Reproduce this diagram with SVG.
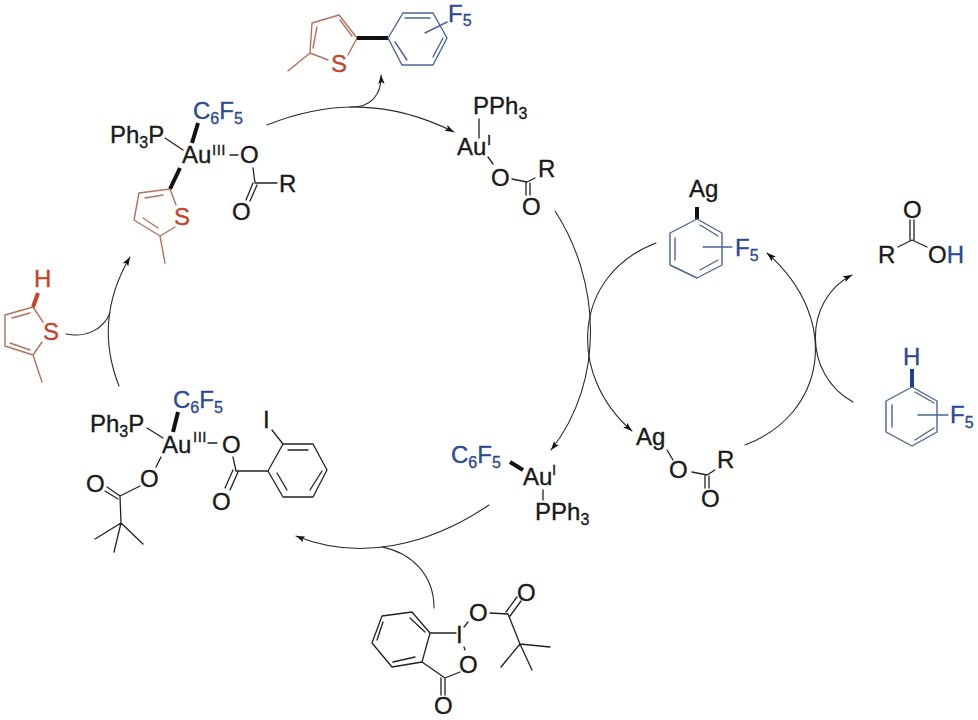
<svg xmlns="http://www.w3.org/2000/svg" width="978" height="720" viewBox="0 0 978 720">
<style>
text{font-family:"Liberation Sans",Arial,sans-serif;font-size:24px;fill:#1a1a1a;stroke:#1a1a1a;stroke-width:.35}
.sub{font-size:16px}
.ox{font-size:15px;letter-spacing:.5px}
.b,.b tspan{fill:#2b4a94;stroke:#2b4a94}
.r{fill:#c0452c;stroke:#c0452c}
path{fill:none;stroke-linecap:round;stroke-linejoin:round}
.k{stroke:#222;stroke-width:1.3}
.kb{stroke:#111;stroke-width:4;stroke-linecap:butt}
.bl{stroke:#4a6596;stroke-width:1.4}
.rd{stroke:#b5705c;stroke-width:1.4}
.c{stroke:#2a2a2a;stroke-width:1.1}
</style>
<defs>
<marker id="arrow" markerUnits="userSpaceOnUse" markerWidth="10" markerHeight="8" refX="9" refY="4" orient="auto"><path d="M0,0.8L9,4L0,7.2L2,4Z" style="fill:#111;stroke:none"/></marker>
</defs>
<rect width="978" height="720" fill="#fff"/>

<g id="connectors">
<path class="c" marker-end="url(#arrow)" d="M267,125C330,100 390,100 454,132"/>
<path class="c" marker-end="url(#arrow)" d="M350,107C370,108 382,95 381,75"/>
<path class="c" marker-end="url(#arrow)" d="M555,211C600,280 606,380 551,450"/>
<path class="c" marker-end="url(#arrow)" d="M656,243C572,275 567,375 632,431"/>
<path class="c" marker-end="url(#arrow)" d="M745,445C825,415 843,320 767,253"/>
<path class="c" marker-end="url(#arrow)" d="M853,402C803,375 803,300 852,275"/>
<path class="c" marker-end="url(#arrow)" d="M489,505C430,545 360,562 296,536"/>
<path class="c" d="M382,547C412,553 434,575 434,608"/>
<path class="c" marker-end="url(#arrow)" d="M119,386Q93,320 130,257"/>
<path class="c" d="M66,334C85,338 103,330 110,313"/>
</g>

<g id="biaryl-product">
<path class="rd" d="M328,60L310,53L312,23L339,15L357,38L348,55M317,27L313,48M340,20L352,36M310,53L288,71"/>
<path class="kb" d="M357,38H388"/>
<path class="bl" d="M388,38L403,13H433L447,38L433,65H402ZM405,18H430M443,38L433,57M395,42L407,60M425,33L447,22"/>
<text class="r" x="331" y="72">S</text>
<text class="b" x="448" y="22">F<tspan class="sub" dy="4">5</tspan></text>
</g>

<g id="au3-thienyl">
<path class="kb" d="M198,123L192,143M180,168L170,189"/>
<path class="k" d="M165,138L183,150M230,155H238M253,168L255,183H277M253,183L246,200M257,185L250,201"/>
<path class="rd" d="M170,189L139,193L134,220L160,236L175,227M170,189L176,205M145,198L163,195M143,218L158,228M160,236L165,263"/>
<text class="b" x="193" y="119">C<tspan class="sub" dy="5">6</tspan><tspan dy="-5">F</tspan><tspan class="sub" dy="5">5</tspan></text>
<text x="110" y="143">Ph<tspan class="sub" dy="5">3</tspan><tspan dy="-5">P</tspan></text>
<text x="182" y="163">Au</text>
<text class="ox" x="212" y="155">III</text>
<text x="240" y="163">O</text>
<text x="279" y="192">R</text>
<text x="232" y="220">O</text>
<text class="r" x="174" y="225">S</text>
</g>

<g id="thiophene">
<path class="rd" d="M33,307L5,315V346L33,355L42,342M33,307L43,322M12,318L30,313M10,343L30,350M33,355L42,382"/>
<path d="M38,293L33,307" style="stroke:#c0452c;stroke-width:4;stroke-linecap:butt"/>
<text class="r" x="34" y="287">H</text>
<text class="r" x="43" y="340">S</text>
</g>

<g id="au3-pivalate">
<path class="kb" d="M178,412L173,432"/>
<path class="k" d="M147,428L163,438M208,443H217M161,457L156,467M140,486L120,496L107,487M118,499L105,491M120,496L121,523M121,523L95,539M121,523L143,544M121,523L114,552M233,457L236,471H268M233,470L225,488M238,472L230,490"/>
<path class="k" d="M268,471L283,444H313L327,470L313,497H283ZM288,450H308M322,471L310,490M277,473L287,490M272,430L283,444"/>
<text class="b" x="173" y="408">C<tspan class="sub" dy="5">6</tspan><tspan dy="-5">F</tspan><tspan class="sub" dy="5">5</tspan></text>
<text x="90" y="432">Ph<tspan class="sub" dy="5">3</tspan><tspan dy="-5">P</tspan></text>
<text x="162" y="453">Au</text>
<text class="ox" x="193" y="442">III</text>
<text x="222" y="453">O</text>
<text x="140" y="487">O</text>
<text x="86" y="492">O</text>
<text x="212" y="510">O</text>
<text x="263" y="428">I</text>
</g>

<g id="au1-aryl">
<path class="kb" d="M510,462L523,470"/>
<path class="k" d="M543,490V500"/>
<text class="b" x="451" y="463">C<tspan class="sub" dy="5">6</tspan><tspan dy="-5">F</tspan><tspan class="sub" dy="5">5</tspan></text>
<text x="523" y="485">Au</text>
<text class="ox" x="552" y="475">I</text>
<text x="535" y="520">PPh<tspan class="sub" dy="5">3</tspan></text>
</g>

<g id="au1-carboxylate">
<path class="k" d="M479,119V138M488,157L493,164M512,179L527,182L535,178M526,183V195M530,183V195"/>
<text x="473" y="114">PPh<tspan class="sub" dy="5">3</tspan></text>
<text x="457" y="155">Au</text>
<text class="ox" x="487" y="145">I</text>
<text x="491" y="186">O</text>
<text x="538" y="177">R</text>
<text x="522" y="215">O</text>
</g>

<g id="ag-aryl">
<path class="kb" d="M697,207V219"/>
<path class="bl" d="M697,219L722,233V265L697,278L670,265V233ZM700,225L718,236M675,238V260M700,270L718,260M703,247H732"/>
<text x="689" y="197">Ag</text>
<text class="b" x="735" y="256">F<tspan class="sub" dy="5">5</tspan></text>
</g>

<g id="ag-carboxylate">
<path class="k" d="M667,450L673,460M692,472L707,475L715,470M705,476V488M709,476V488"/>
<text x="636" y="445">Ag</text>
<text x="669" y="478">O</text>
<text x="717" y="468">R</text>
<text x="701" y="507">O</text>
</g>

<g id="carboxylic-acid">
<path class="k" d="M898,247L912,240L927,247M910,240V220M914,240V220"/>
<text x="878" y="263">R</text>
<text x="903" y="218">O</text>
<text x="928" y="263">O<tspan class="b">H</tspan></text>
</g>

<g id="arene">
<path d="M912,369V387" style="stroke:#1f3f99;stroke-width:4;stroke-linecap:butt"/>
<path class="bl" d="M912,387L937,401V432L912,446L886,432V401ZM915,392L934,403M892,405V427M915,440L934,428M918,415H948"/>
<text class="b" x="903" y="365">H</text>
<text class="b" x="950" y="423">F<tspan class="sub" dy="5">5</tspan></text>
</g>

<g id="hypervalent-iodine">
<path class="k" d="M430,633L412,612L382,616L372,643L392,667L422,662ZM410,618L425,632M383,622L377,640M393,662L415,657M430,633H456M464,627L468,622M464,647L465,650M422,662L445,678L460,672M441,678V695M445,678V695M490,613L508,614L520,644M506,612L517,597M510,616L521,601M520,644L550,647M520,644L501,667M520,644L532,670"/>
<text x="456" y="643">I</text>
<text x="469" y="621">O</text>
<text x="517" y="601">O</text>
<text x="459" y="673">O</text>
<text x="434" y="714">O</text>
</g>
</svg>
